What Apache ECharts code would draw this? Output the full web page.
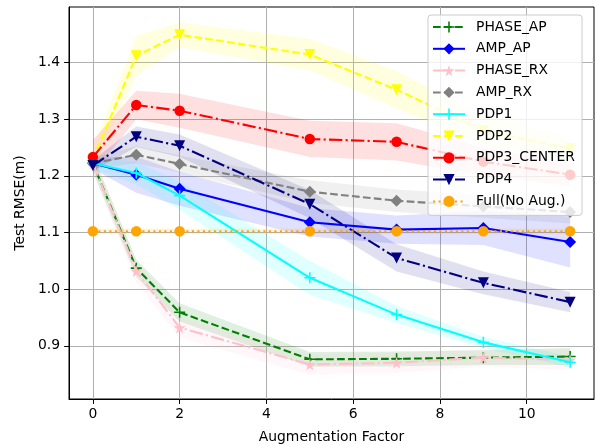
<!DOCTYPE html>
<html>
<head>
<meta charset="utf-8">
<script src="https://cdn.jsdelivr.net/npm/echarts@6/dist/echarts.min.js"></script>
<style>html,body{margin:0;padding:0;background:#fff}#c{width:597px;height:445px}</style>
</head>
<body>
<div id="c"></div>
<script>
// ---- data ----
const xs = [0, 1, 2, 5, 7, 9, 11];
const xTicks = [0, 2, 4, 6, 8, 10];
const yTicks = [0.9, 1.0, 1.1, 1.2, 1.3, 1.4];
const seriesNames = ['PHASE_AP', 'AMP_AP', 'PHASE_RX', 'AMP_RX', 'PDP1', 'PDP2', 'PDP3_CENTER', 'PDP4', 'Full(No Aug.)'];

const PHASE_AP = [1.222, 1.037, 0.959, 0.876, 0.877, 0.879, 0.881];
const PHASE_AP_std = [0.015, 0.015, 0.016, 0.013, 0.013, 0.013, 0.015];
const AMP_AP = [1.222, 1.202, 1.177, 1.118, 1.105, 1.108, 1.083];
const AMP_AP_std = [0.01, 0.032, 0.03, 0.025, 0.025, 0.03, 0.045];
const PHASE_RX = [1.222, 1.032, 0.932, 0.867, 0.870, 0.879, 0.875];
const PHASE_RX_std = [0.015, 0.02, 0.018, 0.018, 0.018, 0.015, 0.018];
const AMP_RX = [1.222, 1.237, 1.221, 1.172, 1.156, 1.146, 1.136];
const AMP_RX_std = [0.01, 0.015, 0.015, 0.02, 0.02, 0.02, 0.02];
const PDP1 = [1.222, 1.205, 1.165, 1.020, 0.955, 0.906, 0.871];
const PDP1_std = [0.01, 0.02, 0.025, 0.03, 0.015, 0.01, 0.01];
const PDP2 = [1.228, 1.412, 1.449, 1.414, 1.352, 1.280, 1.248];
const PDP2_std = [0.02, 0.035, 0.022, 0.028, 0.033, 0.025, 0.02];
const PDP3_CENTER = [1.233, 1.325, 1.315, 1.265, 1.260, 1.225, 1.202];
const PDP3_CENTER_std = [0.03, 0.025, 0.03, 0.032, 0.033, 0.025, 0.02];
const PDP4 = [1.218, 1.269, 1.253, 1.150, 1.055, 1.011, 0.977];
const PDP4_std = [0.01, 0.018, 0.02, 0.025, 0.024, 0.02, 0.018];
const FULL = [1.102, 1.102, 1.102, 1.102, 1.102, 1.102, 1.102];
const FULL_std = [0.005, 0.005, 0.005, 0.005, 0.005, 0.005, 0.005];

// ---- styles ----
const CROSS = 'path://M43,0H57V43H100V57H57V100H43V57H0V43H43Z';
const STAR = 'path://M50,0 L61,35 L98,35 L68,57 L79,91 L50,70 L21,91 L32,57 L2,35 L39,35 Z';
const DASHED = [7.7, 3.3];
const DASHDOT = [13.3, 3.3, 2.1, 3.3];
const DOTTED = [2.1, 3.4];

const defs = [
  {name: 'PHASE_AP', y: PHASE_AP, s: PHASE_AP_std, color: '#008000', type: DASHED, symbol: CROSS, size: 11, rot: 0},
  {name: 'AMP_AP', y: AMP_AP, s: AMP_AP_std, color: '#0000ff', type: 'solid', symbol: 'diamond', size: 12, rot: 0},
  {name: 'PHASE_RX', y: PHASE_RX, s: PHASE_RX_std, color: '#ffc0cb', type: DASHDOT, symbol: STAR, size: 12, rot: 0},
  {name: 'AMP_RX', y: AMP_RX, s: AMP_RX_std, color: '#808080', type: DASHED, symbol: 'diamond', size: 12, rot: 0},
  {name: 'PDP1', y: PDP1, s: PDP1_std, color: '#00ffff', type: 'solid', symbol: CROSS, size: 11, rot: 0},
  {name: 'PDP2', y: PDP2, s: PDP2_std, color: '#ffff00', type: DASHED, symbol: 'triangle', size: 11, rot: 180},
  {name: 'PDP3_CENTER', y: PDP3_CENTER, s: PDP3_CENTER_std, color: '#ff0000', type: DASHDOT, symbol: 'circle', size: 10.5, rot: 0},
  {name: 'PDP4', y: PDP4, s: PDP4_std, color: '#000080', type: DASHDOT, symbol: 'triangle', size: 11, rot: 180},
  {name: 'Full(No Aug.)', y: FULL, s: FULL_std, color: '#ffa500', type: DOTTED, symbol: 'circle', size: 10.5, rot: 0}
];

const series = [];
defs.forEach((d, i) => {
  const rows = xs.map((x, k) => [x, d.y[k] - d.s[k], d.y[k] + d.s[k]]);
  series.push({
    name: 'band_' + i, type: 'custom', silent: true, z: 1,
    data: rows, encode: {x: 0, y: [1, 2]},
    renderItem: (params, api) => {
      if (params.dataIndex !== 0) return null;
      const pts = [];
      rows.forEach(r => pts.push(api.coord([r[0], r[2]])));
      for (let k = rows.length - 1; k >= 0; k--) pts.push(api.coord([rows[k][0], rows[k][1]]));
      return {type: 'polygon', shape: {points: pts}, style: {fill: d.color, opacity: 0.12}};
    }
  });
});
defs.forEach((d, i) => {
  series.push({
    name: d.name, type: 'line', data: xs.map((x, k) => [x, d.y[k]]),
    symbol: d.symbol, symbolSize: d.size, symbolRotate: d.rot, showSymbol: true,
    lineStyle: {color: d.color, width: 2.1, type: d.type},
    itemStyle: {color: d.color, borderWidth: 0},
    z: 3 + i
  });
});

const chart = echarts.init(document.getElementById('c'), null, {renderer: 'canvas'});
const FONT = 'DejaVu Sans';
chart.setOption({
  animation: false,
  backgroundColor: '#ffffff',
  textStyle: {fontFamily: FONT},
  grid: {left: 69, right: 3, top: 7, bottom: 46, outerBoundsMode: 'none', containLabel: false,
    show: true, borderColor: '#000', borderWidth: 1, backgroundColor: 'transparent'},
  legend: {
    data: seriesNames, z: 50,
    orient: 'vertical', left: 428, top: 15,
    itemWidth: 32, itemHeight: 14, itemGap: 5.8,
    padding: [4, 7, 6, 4],
    backgroundColor: 'rgba(255,255,255,0.8)', borderColor: '#cccccc', borderWidth: 1, borderRadius: 3,
    textStyle: {fontFamily: FONT, fontSize: 13.9, lineHeight: 16, color: '#000', padding: [0, 0, 0, 6]}
  },
  xAxis: {
    type: 'value', min: -0.55, max: 11.55,
    name: 'Augmentation Factor', nameLocation: 'middle', nameGap: 31,
    nameTextStyle: {fontFamily: FONT, fontSize: 13.9, color: '#000'},
    axisLine: {show: true, onZero: false, lineStyle: {color: '#000', width: 1}},
    axisTick: {show: true, length: 4.9, lineStyle: {color: '#000', width: 1}, customValues: xTicks},
    axisLabel: {customValues: xTicks, fontFamily: FONT, fontSize: 13.9, color: '#000', margin: 8},
    splitLine: {show: true, lineStyle: {color: '#b0b0b0', width: 1}}
  },
  yAxis: {
    type: 'value', min: 0.806, max: 1.498,
    name: 'Test RMSE(m)', nameLocation: 'middle', nameGap: 39,
    nameTextStyle: {fontFamily: FONT, fontSize: 13.9, color: '#000'},
    axisLine: {show: true, onZero: false, lineStyle: {color: '#000', width: 1}},
    axisTick: {show: true, length: 4.9, lineStyle: {color: '#000', width: 1}, customValues: yTicks},
    axisLabel: {customValues: yTicks, fontFamily: FONT, fontSize: 13.9, color: '#000', margin: 9,
      formatter: v => Number(v).toFixed(1)},
    splitLine: {show: true, lineStyle: {color: '#b0b0b0', width: 1}}
  },
  series: series
});
</script>
</body>
</html>
